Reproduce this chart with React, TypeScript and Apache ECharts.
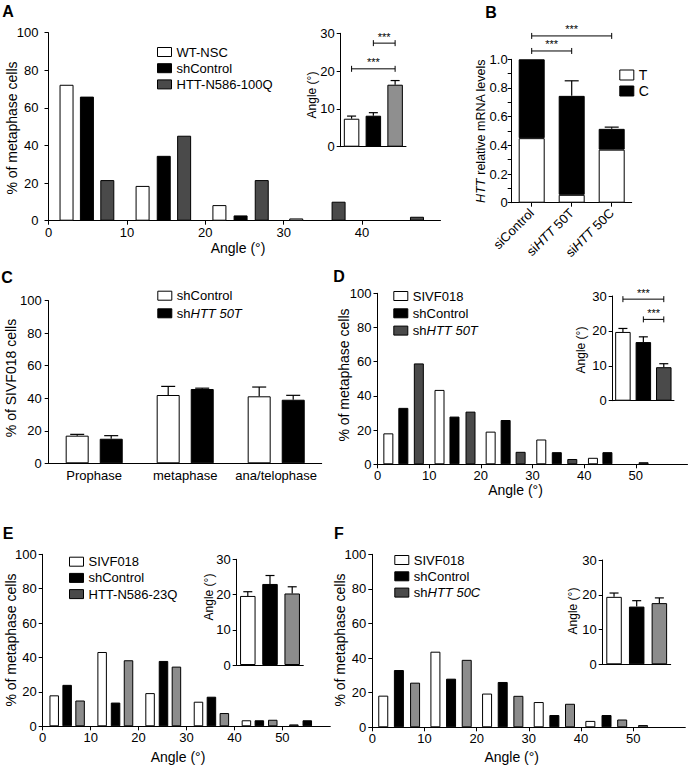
import React, { useEffect, useRef } from 'react';
import * as echarts from 'echarts';

const FONT = '"Liberation Sans", Arial, Helvetica, sans-serif';
const WHITE = '#ffffff';
const BLACK = '#000000';
const DARK = '#4a4a4a';
const LIGHT = '#8c8c8c';

// ---------- Panel A (histogram: [angle, % of metaphase cells]) ----------
const A_NAMES = ['WT-NSC', 'shControl', 'HTT-N586-100Q'];
const A_WT = [[2.3, 72.3], [12.0, 18.5], [21.8, 8.3], [31.6, 1.2]];
const A_SH = [[4.9, 66], [14.7, 34.5], [24.5, 2.8]];
const A_HTT = [[7.5, 21.6], [17.3, 45.2], [27.2, 21.6], [37.0, 10.1], [47.0, 2.1]];
const A_INSET_MEAN = [7.4, 8.2, 16.4];
const A_INSET_ERR = [0.7, 0.8, 1.1];
const A_BRACKETS = [[1, 2, 27.4], [0, 2, 20.6]];

// ---------- Panel B (stacked relative mRNA levels) ----------
const B_CATS = ['siControl', 'siHTT 50T', 'siHTT 50C'];
const B_T = [0.45, 0.055, 0.37];
const B_C = [0.55, 0.69, 0.145];
const B_ERR = [[1, 0.745, 0.105], [2, 0.515, 0.012]];
const B_BRACKETS = [[0, 1, 1.058], [0, 2, 1.163]];

// ---------- Panel C (mitotic phases) ----------
const C_CATS = ['Prophase', 'metaphase', 'ana/telophase'];
const C_NAMES = ['shControl', 'shHTT 50T'];
const C_SHCTRL = [17, 42, 41.2];
const C_SHCTRL_ERR = [0.8, 5.3, 5.7];
const C_SHHTT = [15.1, 45.7, 39.1];
const C_SHHTT_ERR = [1.9, 0.5, 2.7];

// ---------- Panel D ----------
const D_NAMES = ['SIVF018', 'shControl', 'shHTT 50T'];
const D_SIVF = [[2.1, 18.1], [12.0, 43.5], [21.9, 19.1], [31.7, 14.5], [41.7, 3.8]];
const D_SH = [[5.0, 33], [14.9, 27.9], [24.8, 25.9], [34.7, 7.1], [44.5, 7.1]];
const D_HTT = [[8.0, 59], [18.0, 30.8], [27.7, 7.3], [37.7, 3.1], [51.5, 1.2]];
const D_INSET_MEAN = [19.7, 16.8, 9.6];
const D_INSET_ERR = [1.0, 1.5, 1.0];
const D_BRACKETS = [[0, 2, 29.1], [1, 2, 23.3]];

// ---------- Panel E ----------
const E_NAMES = ['SIVF018', 'shControl', 'HTT-N586-23Q'];
const E_SIVF = [[2.4, 18.0], [12.4, 43.2], [22.4, 19.3], [32.5, 14.3], [42.5, 3.5]];
const E_SH = [[5.1, 24.1], [15.2, 13.8], [25.2, 38], [35.2, 17.2], [45.2, 3.5], [55.2, 3.5]];
const E_HTT = [[7.8, 15.0], [17.9, 38.4], [27.9, 34.7], [37.9, 7.7], [48.0, 3.8], [52.4, 1.1]];
const E_INSET_MEAN = [19.6, 23, 20.3];
const E_INSET_ERR = [1.2, 2.4, 1.9];

// ---------- Panel F ----------
const F_NAMES = ['SIVF018', 'shControl', 'shHTT 50C'];
const F_SIVF = [[2.1, 18.3], [12.1, 43.7], [22.0, 19.5], [31.9, 14.6], [41.8, 3.7], [51.9, 1.3]];
const F_SH = [[5.1, 33.1], [15.1, 28.1], [25.0, 26.2], [34.9, 7.1], [44.9, 7.1]];
const F_HTT = [[8.2, 25.8], [18.1, 39], [28.0, 18.2], [37.9, 13.6], [47.9, 4.5]];
const F_INSET_MEAN = [19.4, 16.6, 17.6];
const F_INSET_ERR = [1.1, 1.7, 1.5];

// grid order: A, A-inset, B, C, D, D-inset, E, E-inset, F, F-inset
const GRIDS = [
  { left: 48.5, top: 32.7, width: 392, height: 188 },
  { left: 340.7, top: 33.3, width: 65.3, height: 113.4 },
  { left: 511.7, top: 59.3, width: 120, height: 143.4 },
  { left: 48.7, top: 300.7, width: 273, height: 162.6 },
  { left: 377.5, top: 293.3, width: 310, height: 171 },
  { left: 612.7, top: 296, width: 61.3, height: 104.7 },
  { left: 42.7, top: 554.3, width: 287.6, height: 172 },
  { left: 236.7, top: 559.3, width: 66.6, height: 105.7 },
  { left: 372.3, top: 554.3, width: 313, height: 173 },
  { left: 602.7, top: 560, width: 68, height: 104.3 },
];

const axisLineS = { show: true, onZero: false, lineStyle: { color: BLACK, width: 1 } };
const tickS = { show: true, length: 4, lineStyle: { color: BLACK, width: 1 } };

function histX(g: number, max: number) {
  return {
    type: 'value', gridIndex: g, min: 0, max, interval: 10,
    axisLine: axisLineS, axisTick: tickS, splitLine: { show: false },
    axisLabel: { color: BLACK, fontSize: 13, margin: 5, showMaxLabel: false, fontFamily: FONT },
  };
}
function valY(g: number, max: number, interval: number, margin: number, extra: any = {}) {
  return {
    type: 'value', gridIndex: g, min: 0, max, interval,
    axisLine: axisLineS, axisTick: tickS, splitLine: { show: false },
    axisLabel: { color: BLACK, fontSize: 13, margin, fontFamily: FONT },
    ...extra,
  };
}
function insetX(g: number, cats: string[]) {
  return {
    type: 'category', gridIndex: g, data: cats,
    axisLine: axisLineS, axisTick: { show: false }, axisLabel: { show: false }, splitLine: { show: false },
  };
}

function hist(g: number, name: string, data: number[][], color: string, bw: number) {
  return {
    type: 'bar', name, xAxisIndex: g, yAxisIndex: g, data, barWidth: bw, barGap: '-100%',
    itemStyle: { color, borderColor: BLACK, borderWidth: 1 }, silent: true,
  };
}
function inset(g: number, means: number[], colors: string[]) {
  return {
    type: 'bar', name: 'inset' + g, xAxisIndex: g, yAxisIndex: g, barWidth: 15.5, silent: true,
    data: means.map((v, k) => ({ value: v, itemStyle: { color: colors[k], borderColor: BLACK, borderWidth: 1 } })),
  };
}
function errBars(g: number, data: number[][], dx: number, half: number) {
  return {
    type: 'custom', xAxisIndex: g, yAxisIndex: g, data, silent: true, clip: false, z: 5,
    renderItem: (_p: any, api: any) => {
      const x = api.value(0), m = api.value(1), e = api.value(2);
      const p0 = api.coord([x, m]);
      const p1 = api.coord([x, m + e]);
      const cx = p0[0] + dx;
      return {
        type: 'group',
        children: [
          { type: 'line', shape: { x1: cx, y1: p0[1], x2: cx, y2: p1[1] }, style: { stroke: BLACK, lineWidth: 1.2 } },
          { type: 'line', shape: { x1: cx - half, y1: p1[1], x2: cx + half, y2: p1[1] }, style: { stroke: BLACK, lineWidth: 1.2 } },
        ],
      };
    },
  };
}
function brackets(g: number, data: number[][]) {
  return {
    type: 'custom', xAxisIndex: g, yAxisIndex: g, data, silent: true, clip: false, z: 5,
    encode: { x: [0, 1], y: 2 },
    renderItem: (_p: any, api: any) => {
      const a = api.coord([api.value(0), api.value(2)]);
      const b = api.coord([api.value(1), api.value(2)]);
      const y = a[1];
      return {
        type: 'group',
        children: [
          { type: 'line', shape: { x1: a[0], y1: y, x2: b[0], y2: y }, style: { stroke: BLACK, lineWidth: 1 } },
          { type: 'line', shape: { x1: a[0], y1: y - 3, x2: a[0], y2: y + 3 }, style: { stroke: BLACK, lineWidth: 1 } },
          { type: 'line', shape: { x1: b[0], y1: y - 3, x2: b[0], y2: y + 3 }, style: { stroke: BLACK, lineWidth: 1 } },
          {
            type: 'text', x: (a[0] + b[0]) / 2, y: y - 1,
            style: { text: '***', fill: BLACK, fontSize: 11, fontFamily: FONT, align: 'center', verticalAlign: 'bottom', textAlign: 'center', textVerticalAlign: 'bottom' },
          },
        ],
      };
    },
  };
}

function legend(left: number, top: number, gap: number, items: { name: string; color: string }[], fontSize = 13, lh = 14, ih = 9) {
  return {
    show: true, orient: 'vertical', left, top, itemWidth: 14, itemHeight: ih, itemGap: gap, padding: 0,
    selectedMode: false, icon: 'rect',
    itemStyle: { borderColor: BLACK, borderWidth: 1 },
    data: items.map((it) => ({ name: it.name, icon: 'rect', itemStyle: { color: it.color, borderColor: BLACK, borderWidth: 1 } })),
    formatter: (n: string) => (n.startsWith('shHTT') ? 'sh{i|' + n.slice(2) + '}' : n),
    textStyle: {
      color: BLACK, fontSize, fontFamily: FONT, lineHeight: lh,
      rich: { i: { fontStyle: 'italic', fontSize, fontFamily: FONT, lineHeight: lh, color: BLACK } },
    },
  };
}

function txt(text: string, x: number, y: number, size: number, rot = false, bold = false, rich: any = undefined) {
  return {
    type: 'text', x, y, rotation: rot ? Math.PI / 2 : 0, silent: true,
    style: {
      text, fill: BLACK, fontSize: size, fontFamily: FONT, fontWeight: bold ? 'bold' : 'normal',
      align: 'center', verticalAlign: 'middle', textAlign: 'center', textVerticalAlign: 'middle',
      rich,
    },
  };
}

function buildOption() {
  const xAxis: any[] = [
    histX(0, 50),
    insetX(1, A_NAMES),
    {
      type: 'category', gridIndex: 2, data: B_CATS,
      axisLine: axisLineS, axisTick: { ...tickS, alignWithLabel: true }, splitLine: { show: false },
      axisLabel: {
        color: BLACK, fontSize: 13, fontFamily: FONT, rotate: 45, margin: 8, interval: 0,
        formatter: (v: string) => (v.startsWith('siHTT') ? 'si{i|HTT}' + v.slice(5) : v),
        rich: { i: { fontStyle: 'italic', fontSize: 13, fontFamily: FONT, color: BLACK } },
      },
    },
    {
      type: 'category', gridIndex: 3, data: C_CATS,
      axisLine: axisLineS, axisTick: { show: false }, splitLine: { show: false },
      axisLabel: { color: BLACK, fontSize: 13, fontFamily: FONT, margin: 6, interval: 0 },
    },
    histX(4, 60),
    insetX(5, D_NAMES),
    histX(6, 60),
    insetX(7, E_NAMES),
    histX(8, 60),
    insetX(9, F_NAMES),
  ];
  const yAxis: any[] = [
    valY(0, 100, 20, 10),
    valY(1, 30, 10, 6),
    valY(2, 1, 0.2, 4, {
      minorTick: { show: true, splitNumber: 2, length: 4, lineStyle: { color: BLACK, width: 1 } },
      minorSplitLine: { show: false },
      axisLabel: { color: BLACK, fontSize: 13, margin: 4, fontFamily: FONT, formatter: (v: number) => (v === 0 ? '0' : v.toFixed(1)) },
    }),
    valY(3, 100, 20, 7),
    valY(4, 100, 20, 6),
    valY(5, 30, 10, 6),
    valY(6, 100, 20, 6),
    valY(7, 30, 10, 6),
    valY(8, 100, 20, 6),
    valY(9, 30, 10, 6),
  ];

  const series: any[] = [
    // A
    hist(0, A_NAMES[0], A_WT, WHITE, 14),
    hist(0, A_NAMES[1], A_SH, BLACK, 14),
    hist(0, A_NAMES[2], A_HTT, DARK, 14),
    inset(1, A_INSET_MEAN, [WHITE, BLACK, '#8f8f8f']),
    errBars(1, A_INSET_MEAN.map((m, k) => [k, m, A_INSET_ERR[k]]), 0, 4.5),
    brackets(1, A_BRACKETS),
    // B
    { type: 'bar', name: 'T', xAxisIndex: 2, yAxisIndex: 2, stack: 'b', data: B_T, barWidth: 26, silent: true, itemStyle: { color: WHITE, borderColor: BLACK, borderWidth: 1 } },
    { type: 'bar', name: 'C', xAxisIndex: 2, yAxisIndex: 2, stack: 'b', data: B_C, barWidth: 26, silent: true, itemStyle: { color: BLACK, borderColor: BLACK, borderWidth: 1 } },
    errBars(2, B_ERR, 0, 7),
    brackets(2, B_BRACKETS),
    // C
    { type: 'bar', name: C_NAMES[0], xAxisIndex: 3, yAxisIndex: 3, data: C_SHCTRL, barWidth: 23, barGap: '48%', silent: true, itemStyle: { color: WHITE, borderColor: BLACK, borderWidth: 1 } },
    { type: 'bar', name: C_NAMES[1], xAxisIndex: 3, yAxisIndex: 3, data: C_SHHTT, barWidth: 23, barGap: '48%', silent: true, itemStyle: { color: BLACK, borderColor: BLACK, borderWidth: 1 } },
    errBars(3, C_SHCTRL.map((m, k) => [k, m, C_SHCTRL_ERR[k]]), -17, 7),
    errBars(3, C_SHHTT.map((m, k) => [k, m, C_SHHTT_ERR[k]]), 17, 7),
    // D
    hist(4, D_NAMES[0], D_SIVF, WHITE, 10),
    hist(4, D_NAMES[1], D_SH, BLACK, 10),
    hist(4, D_NAMES[2], D_HTT, DARK, 10),
    inset(5, D_INSET_MEAN, [WHITE, BLACK, DARK]),
    errBars(5, D_INSET_MEAN.map((m, k) => [k, m, D_INSET_ERR[k]]), 0, 4.5),
    brackets(5, D_BRACKETS),
    // E
    hist(6, E_NAMES[0], E_SIVF, WHITE, 9.5),
    hist(6, E_NAMES[1], E_SH, BLACK, 9.5),
    hist(6, E_NAMES[2], E_HTT, LIGHT, 9.5),
    inset(7, E_INSET_MEAN, [WHITE, BLACK, LIGHT]),
    errBars(7, E_INSET_MEAN.map((m, k) => [k, m, E_INSET_ERR[k]]), 0, 4.5),
    // F
    hist(8, F_NAMES[0], F_SIVF, WHITE, 10),
    hist(8, F_NAMES[1], F_SH, BLACK, 10),
    hist(8, F_NAMES[2], F_HTT, LIGHT, 10),
    inset(9, F_INSET_MEAN, [WHITE, BLACK, LIGHT]),
    errBars(9, F_INSET_MEAN.map((m, k) => [k, m, F_INSET_ERR[k]]), 0, 4.5),
  ];

  const legends = [
    legend(157, 45, 2.2, [{ name: A_NAMES[0], color: WHITE }, { name: A_NAMES[1], color: BLACK }, { name: A_NAMES[2], color: DARK }]),
    legend(619.3, 67.5, 1, [{ name: 'T', color: WHITE }, { name: 'C', color: BLACK }], 14, 15, 10),
    legend(157.3, 288.7, 3.6, [{ name: C_NAMES[0], color: WHITE }, { name: C_NAMES[1], color: BLACK }]),
    legend(393.3, 289, 3.3, [{ name: D_NAMES[0], color: WHITE }, { name: D_NAMES[1], color: BLACK }, { name: D_NAMES[2], color: DARK }]),
    legend(69, 554.7, 2.2, [{ name: E_NAMES[0], color: WHITE }, { name: E_NAMES[1], color: BLACK }, { name: E_NAMES[2], color: DARK }]),
    legend(394.3, 553, 2.3, [{ name: F_NAMES[0], color: WHITE }, { name: F_NAMES[1], color: BLACK }, { name: F_NAMES[2], color: DARK }]),
  ];

  const italicRich = { i: { fontStyle: 'italic', fontSize: 12.5, fontFamily: FONT, fill: BLACK, color: BLACK } };

  const graphic = [
    txt('A', 8, 11, 16, false, true),
    txt('B', 491, 12, 16, false, true),
    txt('C', 7, 277, 16, false, true),
    txt('D', 339, 276, 16, false, true),
    txt('E', 8, 533, 16, false, true),
    txt('F', 339, 533, 16, false, true),
    txt('% of metaphase cells', 11.5, 128, 14, true),
    txt('Angle (°)', 238, 248, 14),
    txt('Angle (°)', 312, 95, 12, true),
    txt('{i|HTT} relative mRNA levels', 480.5, 131, 12.5, true, false, italicRich),
    txt('% of SIVF018 cells', 11, 378, 14, true),
    txt('% of metaphase cells', 344, 375, 14, true),
    txt('Angle (°)', 515.5, 490, 14),
    txt('Angle (°)', 581, 350, 12, true),
    txt('% of metaphase cells', 11, 640, 14, true),
    txt('Angle (°)', 178, 757, 14),
    txt('Angle (°)', 208.5, 597, 12, true),
    txt('% of metaphase cells', 340, 640, 14, true),
    txt('Angle (°)', 511.7, 757, 14),
    txt('Angle (°)', 573, 611, 12, true),
  ];

  return {
    animation: false,
    backgroundColor: '#ffffff',
    textStyle: { fontFamily: FONT, color: BLACK },
    grid: GRIDS.map((g) => ({ ...g, containLabel: false, outerBoundsMode: 'none', show: false })),
    xAxis,
    yAxis,
    legend: legends,
    series,
    graphic,
  };
}

export default function App() {
  const ref = useRef<HTMLDivElement>(null);
  useEffect(() => {
    const chart = echarts.init(ref.current as HTMLDivElement, null, { renderer: 'svg' });
    chart.setOption(buildOption() as any);
    return () => chart.dispose();
  }, []);
  return (
    <div
      ref={ref}
      style={{ position: 'absolute', left: 0, top: 0, width: 688, height: 767, background: '#ffffff' }}
    />
  );
}
